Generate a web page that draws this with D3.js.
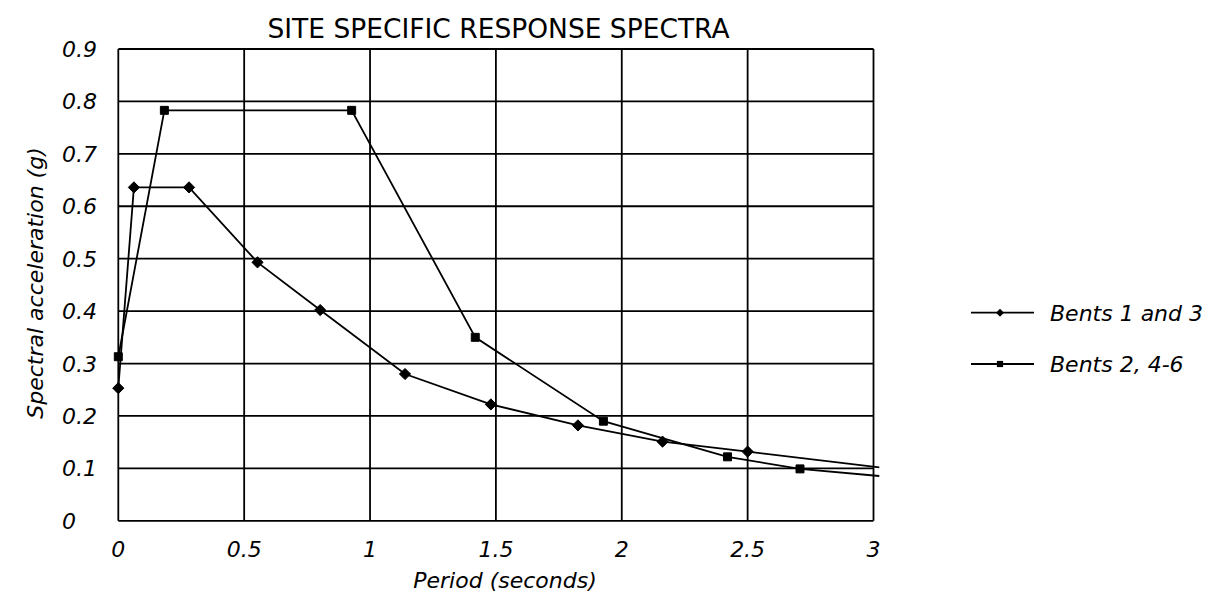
<!DOCTYPE html>
<html>
<head>
<meta charset="utf-8">
<script src="https://cdn.jsdelivr.net/npm/d3@7"></script>
<style>
  html, body { margin: 0; padding: 0; background: #fff; }
  svg { display: block; }
  text { font-family: "DejaVu Sans", sans-serif; fill: #000; }
</style>
</head>
<body>
<svg id="chart" width="1209" height="594"></svg>
<script>
// ---- data ----
const title = "SITE SPECIFIC RESPONSE SPECTRA";
const xTitle = "Period (seconds)";
const yTitle = "Spectral acceleration (g)";
const xTicks = [0, 0.5, 1, 1.5, 2, 2.5, 3];
const xTickLabels = ["0", "0.5", "1", "1.5", "2", "2.5", "3"];
const yTicks = [0, 0.1, 0.2, 0.3, 0.4, 0.5, 0.6, 0.7, 0.8, 0.9];
const yTickLabels = ["0", "0.1", "0.2", "0.3", "0.4", "0.5", "0.6", "0.7", "0.8", "0.9"];
const seriesNames = ["Bents 1 and 3", "Bents 2, 4-6"];
const bents13Period = [0, 0.062, 0.281, 0.553, 0.802, 1.139, 1.48, 1.826, 2.162, 2.5, 3.023];
const bents13Accel  = [0.253, 0.636, 0.636, 0.493, 0.402, 0.280, 0.222, 0.182, 0.151, 0.132, 0.102];
const bents246Period = [0, 0.183, 0.927, 1.418, 1.927, 2.42, 2.708, 3.023];
const bents246Accel  = [0.313, 0.783, 0.783, 0.350, 0.190, 0.122, 0.099, 0.0855];

// ---- layout ----
const svg = d3.select("#chart");
const plotLeft = 118.3, plotRight = 873.5, plotTop = 49, plotBottom = 520.8;
const x = d3.scaleLinear().domain([0, 3]).range([plotLeft, plotRight]);
const y = d3.scaleLinear().domain([0, 0.9]).range([plotBottom, plotTop]);
const stroke = 1.8;

// grid
const g = svg.append("g");
g.selectAll("line.v").data(xTicks).join("line").attr("class", "v")
  .attr("x1", d => x(d)).attr("x2", d => x(d))
  .attr("y1", y(0)).attr("y2", y(0.9))
  .attr("stroke", "#000").attr("stroke-width", stroke);
g.selectAll("line.h").data(yTicks).join("line").attr("class", "h")
  .attr("x1", x(0)).attr("x2", x(3))
  .attr("y1", d => y(d)).attr("y2", d => y(d))
  .attr("stroke", "#000").attr("stroke-width", stroke);

// tick labels
svg.append("g").selectAll("text").data(xTicks).join("text")
  .attr("x", d => x(d)).attr("y", 557)
  .attr("text-anchor", "middle")
  .attr("font-size", 22).attr("font-style", "italic")
  .text((d, i) => xTickLabels[i]);
svg.append("g").selectAll("text").data(yTicks).join("text")
  .attr("x", 62).attr("y", d => y(d) + 8)
  .attr("text-anchor", "start")
  .attr("font-size", 22).attr("font-style", "italic")
  .text((d, i) => yTickLabels[i]);

// titles
svg.append("text").attr("x", 498.5).attr("y", 38)
  .attr("text-anchor", "middle").attr("font-size", 26.5).text(title);
svg.append("text").attr("x", 505).attr("y", 588)
  .attr("text-anchor", "middle").attr("font-size", 22).attr("font-style", "italic").text(xTitle);
svg.append("text").attr("transform", "translate(43,283) rotate(-90)")
  .attr("text-anchor", "middle").attr("font-size", 22).attr("font-style", "italic").text(yTitle);

// series
const line = d3.line().x(d => x(d[0])).y(d => y(d[1]));
const s1 = bents13Period.map((p, i) => [p, bents13Accel[i]]);
const s2 = bents246Period.map((p, i) => [p, bents246Accel[i]]);

svg.append("path").datum(s1).attr("d", line)
  .attr("fill", "none").attr("stroke", "#000").attr("stroke-width", stroke);
svg.append("path").datum(s2).attr("d", line)
  .attr("fill", "none").attr("stroke", "#000").attr("stroke-width", stroke);

const diamondPath = d3.symbol().type(d3.symbolDiamond2).size(80)();
const squarePath = d3.symbol().type(d3.symbolSquare2).size(81)();

svg.append("g").selectAll("path").data(s1.slice(0, -1)).join("path")
  .attr("transform", d => `translate(${x(d[0])},${y(d[1])})`)
  .attr("d", diamondPath)
  .attr("fill", "#000").attr("stroke", "#000").attr("stroke-width", 1);
svg.append("g").selectAll("path").data(s2.slice(0, -1)).join("path")
  .attr("transform", d => `translate(${x(d[0])},${y(d[1])})`)
  .attr("d", squarePath)
  .attr("fill", "#000").attr("stroke", "#000").attr("stroke-width", 1);

// legend
const legendY = [312.7, 364];
const legendSymbols = [
  d3.symbol().type(d3.symbolDiamond2).size(40)(),
  d3.symbol().type(d3.symbolSquare2).size(49)()
];
const legend = svg.append("g");
seriesNames.forEach((name, i) => {
  legend.append("line").attr("x1", 971).attr("x2", 1034)
    .attr("y1", legendY[i]).attr("y2", legendY[i])
    .attr("stroke", "#000").attr("stroke-width", stroke);
  legend.append("path")
    .attr("transform", `translate(1000,${legendY[i]})`)
    .attr("d", legendSymbols[i])
    .attr("fill", "#000");
  legend.append("text").attr("x", 1050).attr("y", legendY[i] + 8)
    .attr("font-size", 22).attr("font-style", "italic").text(name);
});
</script>
</body>
</html>
